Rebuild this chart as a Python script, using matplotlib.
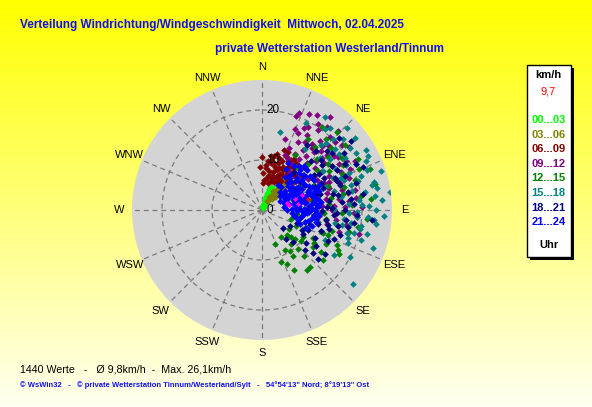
import numpy as np
import matplotlib
matplotlib.use("Agg")
import matplotlib.pyplot as plt
from matplotlib.transforms import offset_copy

# (direction deg, speed km/h) per 3-hour block
h00_03 = [(20, 0.4), (25, 0.6), (15, 0.8), (30, 0.9), (22, 1.1), (18, 1.3), (28, 1.4), (12, 1.5),
          (33, 1.6), (24, 1.8), (19, 2.0), (27, 2.1), (14, 2.3), (31, 2.4), (22, 2.6), (17, 2.8),
          (26, 2.9), (20, 3.1), (29, 3.2), (23, 3.4), (16, 3.5), (25, 3.7), (21, 3.9), (27, 4.0),
          (19, 4.2), (24, 4.4), (22, 4.6), (26, 4.8), (20, 4.9), (13, 1.0), (35, 1.2), (10, 0.6),
          (32, 2.0), (15, 3.0), (28, 3.8), (18, 4.5), (23, 2.2), (21, 1.7), (26, 2.5), (24, 3.3)]
h03_06 = [(30, 2.0), (35, 2.5), (40, 3.0), (33, 3.5), (45, 3.8), (38, 4.2), (42, 4.6), (35, 5.0),
          (48, 5.2), (40, 5.6), (36, 6.0), (44, 6.3), (39, 6.8), (33, 7.2), (42, 7.5), (37, 7.8),
          (30, 4.5), (46, 4.0), (34, 5.8), (41, 3.4), (50, 6.0), (28, 3.0), (38, 7.0), (44, 5.0),
          (32, 6.5)]
h06_09 = [(0, 10.7), (358, 8.7), (2, 7.5), (5, 9.0), (8, 6.5), (10, 8.0), (12, 10.0), (14, 7.0),
          (15, 11.5), (17, 9.0), (18, 6.0), (20, 12.7), (21, 8.5), (22, 10.5), (24, 7.5), (24, 12.8),
          (26, 9.5), (27, 6.5), (28, 11.0), (30, 8.0), (31, 10.0), (33, 7.0), (34, 9.0), (36, 11.5),
          (38, 8.5), (40, 10.0), (42, 7.5), (44, 9.5), (46, 12.0), (12, 5.5), (6, 8.5), (16, 8.0),
          (19, 10.0), (23, 6.0), (29, 7.0), (35, 6.0), (25, 11.8), (32, 12.0), (11, 9.5), (4, 6.0),
          (9, 11.0), (27, 8.0), (37, 10.5), (14, 9.5), (20, 7.0), (41, 11.5), (50, 10.5), (48, 8.5),
          (3, 5.5), (18, 11.0), (7, 9.8), (13, 11.0), (17, 6.8), (22, 9.0), (26, 7.0), (30, 11.5),
          (34, 10.5), (28, 9.0), (10, 7.0), (39, 9.5)]
h09_12 = [(18, 15.0), (20, 20.1), (21, 20.7), (24, 13.5), (25, 17.0), (26, 21.4), (27, 11.5),
          (28, 15.5), (29, 19.0), (30, 13.0), (31, 17.5), (32, 16.1), (33, 11.0), (34, 14.5),
          (35, 19.5), (36, 12.5), (37, 16.5), (38, 21.0), (39, 14.0), (40, 18.0), (41, 11.5),
          (42, 15.5), (43, 20.0), (44, 13.0), (45, 16.7), (46, 18.5), (47, 12.0), (48, 14.5),
          (50, 17.0), (51, 20.5), (52, 13.5), (53, 15.5), (55, 18.5), (56, 11.0), (57, 14.0),
          (58, 16.5), (60, 19.5), (61, 12.5), (63, 15.0), (64, 17.5), (66, 13.5), (68, 16.0),
          (70, 18.5), (72, 14.0), (74, 11.5), (76, 16.5), (78, 19.0), (80, 13.0), (82, 15.5),
          (84, 17.5), (86, 12.0), (88, 16.6), (88, 20.0), (90, 14.0), (92, 18.5), (94, 19.0),
          (96, 11.5), (98, 15.0), (100, 17.0), (102, 13.2), (104, 20.0), (106, 16.0), (22, 17.5),
          (30, 22.0), (36, 23.0), (23, 12.0), (44, 22.0), (54, 21.5), (62, 21.0), (34, 9.5),
          (27, 18.5), (33, 20.5), (39, 16.0), (43, 17.5), (47, 20.0), (49, 16.0), (53, 18.0),
          (57, 12.5), (59, 18.0), (65, 19.5), (67, 14.5), (71, 16.5), (75, 13.5), (79, 17.5),
          (83, 19.0), (87, 14.5)]
h12_15 = [(31, 12.8), (36, 20.5), (40, 16.5), (44, 21.6), (48, 18.5), (51, 17.0), (52, 21.0),
          (54, 13.5), (57, 19.0), (58, 9.4), (60, 15.5), (62, 21.8), (64, 11.5), (66, 17.5),
          (69, 23.1), (70, 14.0), (72, 19.5), (75, 12.0), (77, 23.2), (79, 16.5), (82, 20.0),
          (85, 13.5), (87, 18.0), (90, 10.5), (92, 16.0), (95, 21.0), (98, 13.0), (101, 15.2),
          (102, 11.5), (104, 18.0), (106, 9.0), (107, 14.6), (111, 13.1), (111, 14.1), (113, 9.3),
          (115, 16.5), (118, 17.2), (119, 11.7), (120, 17.7), (123, 12.3), (123, 9.8), (126, 12.6),
          (129, 15.8), (131, 8.7), (133, 8.0), (137, 10.6), (140, 14.9), (143, 15.0), (146, 10.0),
          (146, 11.2), (150, 9.2), (155, 12.0), (159, 7.2), (145, 6.5), (135, 7.0), (125, 6.5),
          (116, 7.5), (108, 6.0), (97, 7.0), (88, 8.5), (78, 10.0), (45, 13.0), (38, 11.0),
          (33, 17.0), (65, 8.0), (72, 6.5), (125, 14.5), (138, 12.5), (152, 13.5), (118, 14.5),
          (110, 12.5), (128, 10.0), (140, 9.0), (160, 11.0), (42, 19.0), (47, 15.0), (55, 16.0),
          (61, 18.5), (67, 21.0), (74, 17.0), (80, 14.0), (84, 22.0), (93, 12.5), (100, 19.5)]
h15_18 = [(13, 16.0), (27, 19.5), (34, 22.5), (38, 20.5), (40, 21.3), (42, 17.5), (45, 20.2),
          (46, 23.5), (48, 15.5), (50, 19.0), (52, 23.5), (53, 17.0), (55, 21.5), (57, 14.5),
          (58, 19.5), (60, 24.0), (61, 17.0), (63, 23.8), (64, 21.0), (66, 15.5), (67, 19.0),
          (69, 22.5), (70, 17.5), (72, 25.0), (73, 20.0), (75, 15.0), (76, 23.0), (77, 22.5),
          (78, 18.5), (80, 21.0), (81, 16.0), (82, 25.8), (83, 22.8), (84, 19.5), (85, 24.0),
          (86, 17.5), (88, 21.5), (89, 14.5), (90, 22.9), (91, 19.0), (93, 24.5), (94, 21.3),
          (94, 19.0), (96, 16.5), (97, 23.0), (99, 20.0), (101, 19.9), (101, 16.2), (103, 21.5),
          (105, 17.5), (107, 20.8), (109, 23.5), (111, 18.5), (115, 14.0), (118, 20.0), (100, 14.8),
          (129, 23.5), (122, 17.0), (70, 13.5), (56, 12.5), (35, 15.0), (44, 18.5), (49, 21.5),
          (54, 19.0), (59, 22.0), (62, 19.0), (65, 23.0), (68, 17.0), (71, 21.0), (74, 18.5),
          (79, 23.5), (87, 20.0), (92, 17.5), (95, 22.5), (98, 18.0), (104, 19.0), (108, 18.0)]
h18_21 = [(45, 14.0), (48, 17.5), (50, 11.0), (51, 18.0), (53, 15.0), (55, 20.0), (56, 12.5),
          (58, 16.5), (60, 10.0), (61, 19.0), (63, 14.0), (64, 21.0), (66, 11.5), (66, 15.9),
          (68, 18.0), (70, 13.0), (71, 9.5), (72, 16.5), (74, 19.5), (75, 12.0), (77, 14.5),
          (78, 17.5), (80, 10.5), (81, 20.5), (82, 13.5), (84, 16.0), (85, 11.0), (86, 18.5),
          (88, 14.0), (89, 9.0), (90, 16.5), (91, 12.0), (93, 19.0), (94, 14.5), (96, 10.5),
          (97, 17.0), (99, 13.0), (101, 17.5), (102, 15.5), (104, 11.5), (106, 14.0), (108, 16.5),
          (110, 12.5), (113, 10.0), (115, 14.5), (118, 12.0), (121, 9.5), (124, 13.0), (127, 11.0),
          (130, 5.5), (130, 13.4), (131, 14.8), (133, 11.7), (136, 9.0), (140, 7.5), (120, 6.5),
          (110, 7.5), (100, 8.0), (57, 8.0), (62, 7.0), (40, 10.0), (42, 16.0), (47, 21.0),
          (52, 22.5), (67, 22.0), (59, 12.0), (76, 9.0), (87, 7.5), (95, 22.0), (35, 15.8),
          (54, 9.5), (58, 13.5), (62, 17.0), (65, 13.0), (69, 16.0), (73, 11.0), (79, 15.5),
          (83, 18.0), (87, 13.0), (92, 15.0), (98, 18.5), (103, 13.5), (107, 10.0), (112, 15.5),
          (117, 9.0), (125, 15.5), (46, 12.0), (50, 15.5)]
h21_24 = [(40, 6.0), (42, 8.5), (45, 5.0), (45, 10.5), (47, 7.0), (48, 12.0), (50, 6.0), (50, 9.0),
          (52, 4.5), (52, 11.0), (53, 7.5), (55, 11.8), (55, 5.5), (57, 8.5), (58, 10.0), (60, 6.5),
          (60, 12.0), (62, 4.0), (62, 9.0), (64, 7.5), (65, 11.0), (66, 12.5), (67, 5.5), (68, 8.5),
          (70, 6.5), (70, 10.0), (72, 12.0), (73, 4.5), (74, 7.5), (75, 9.0), (76, 11.0), (78, 5.5),
          (78, 8.0), (80, 6.5), (80, 10.5), (82, 12.0), (83, 4.5), (84, 7.5), (85, 9.5), (86, 11.5),
          (88, 6.0), (88, 8.5), (90, 10.5), (90, 5.0), (92, 7.0), (94, 9.0), (95, 11.5), (96, 6.0),
          (98, 8.0), (100, 10.0), (102, 7.0), (105, 9.0), (108, 10.5), (110, 8.0), (38, 9.0),
          (36, 11.0), (44, 12.2), (63, 6.0), (71, 8.0),
          (77, 6.8), (56, 9.8), (49, 10.8), (67, 10.2), (81, 8.8), (59, 7.2), (87, 11.0), (93, 11.0),
          (54, 6.8), (46, 8.2), (69, 11.8), (79, 11.5), (91, 8.0), (97, 10.5), (103, 11.0),
          (100, 6.5), (65, 5.0), (72, 9.5), (84, 10.8), (43, 11.0), (57, 5.0),
          (74, 5.2), (106, 7.5), (112, 9.5), (29, 10.7), (33, 5.9),
          (35, 8.0), (31, 9.5), (44, 7.5), (48, 9.5), (53, 10.0), (56, 7.0), (60, 8.2), (63, 10.5),
          (66, 7.0), (69, 9.8), (71, 11.0), (74, 10.5), (77, 8.5), (80, 9.0), (83, 10.0), (86, 6.8),
          (89, 10.0), (92, 9.5), (96, 8.5), (99, 11.0), (103, 9.5), (40, 11.5)]
latest = [(69, 8.5), (75, 5.1), (79, 5.4), (80, 7.4), (72, 7.0)]
current = [(76, 9.5)]

groups = [h00_03, h03_06, h06_09, h09_12, h12_15, h15_18, h18_21, h21_24]
group_labels = ["00...03", "03...06", "06...09", "09...12", "12...15", "15...18", "18...21", "21...24"]
group_colors = ["#00ff00", "#808000", "#800000", "#800080", "#008000", "#008080", "#000080", "#0000ff"]
directions = ["N", "NNE", "NE", "ENE", "E", "ESE", "SE", "SSE",
              "S", "SSW", "SW", "WSW", "W", "WNW", "NW", "NNW"]
rings = [10, 20]
r_max = 26

W, H = 592, 407
fig = plt.figure(figsize=(W / 100, H / 100), dpi=100)

# yellow gradient background
bg = fig.add_axes([0, 0, 1, 1])
grad = np.linspace(0, 1, 256)[:, None]
img = np.zeros((256, 2, 3))
img[..., 0] = 1.0
img[..., 1] = 1.0
img[..., 2] = grad * 0.94
bg.imshow(img, aspect="auto", extent=[0, 1, 0, 1])
bg.set_axis_off()

cx, cy, rad = 262, 210, 130
ax = fig.add_axes([(cx - rad) / W, (H - cy - rad) / H, 2 * rad / W, 2 * rad / H], projection="polar")
ax.set_theta_zero_location("N")
ax.set_theta_direction(-1)
ax.set_facecolor("#d4d4d4")
ax.spines["polar"].set_visible(False)
ax.set_ylim(0, r_max)
ax.set_xticks(np.radians(np.arange(0, 360, 22.5)))
ax.set_xticklabels([])
ax.set_yticks(rings)
ax.set_yticklabels([])
ax.grid(True, color="#7a7a7a", linestyle=(0, (4, 3)), linewidth=0.9)

ms = 3.4
for pts, col in zip(groups, group_colors):
    d = np.radians([p[0] for p in pts])
    s = [p[1] for p in pts]
    ax.plot(d, s, "D", color=col, ms=ms, mew=0, zorder=3)
ax.plot(np.radians([p[0] for p in latest]), [p[1] for p in latest], "D", color="#ff00ff", ms=2.6, mew=0, zorder=3)
ax.plot(np.radians([p[0] for p in current]), [p[1] for p in current], "D", color="#ff0000", ms=2.6, mew=0, zorder=3)

lab_font = ["Liberation Sans", "DejaVu Sans"]
for i, name in enumerate(directions):
    ax.text(np.radians(i * 22.5), 28.6, name, ha="center", va="center", fontsize=8,
            family=lab_font, clip_on=False)

tr = offset_copy(ax.transData, fig=fig, x=3, y=0, units="points")
for r in [0] + rings:
    ax.text(0, r, str(r), transform=tr, ha="left", va="center", fontsize=8.5, family=lab_font, zorder=4)

blue = "#1010f0"
fig.text(20 / W, 1 - 25 / H, "Verteilung Windrichtung/Windgeschwindigkeit  Mittwoch, 02.04.2025",
         color=blue, fontsize=8.5, fontweight="bold", family=lab_font, ha="left", va="center")
fig.text(215 / W, 1 - 49 / H, "private Wetterstation Westerland/Tinnum",
         color=blue, fontsize=8.5, fontweight="bold", family=lab_font, ha="left", va="center")
fig.text(20 / W, 1 - 369 / H, "1440 Werte   -   Ø 9,8km/h  -  Max. 26,1km/h",
         color="black", fontsize=7.7, family=lab_font, ha="left", va="center")
fig.text(20 / W, 1 - 385.5 / H,
         "© WsWin32   -   © private Wetterstation Tinnum/Westerland/Sylt   -   54°54'13\" Nord; 8°19'13\" Ost",
         color=blue, fontsize=5.5, fontweight="bold", family=lab_font, ha="left", va="center")

# legend box with shadow
lx0, lx1, ly0, ly1 = 527, 571, 65, 257
bg.add_patch(plt.Rectangle(((lx0 + 3) / W, 1 - (ly1 + 3) / H), (lx1 - lx0) / W, (ly1 - ly0) / H,
                           transform=bg.transAxes, facecolor="black", edgecolor="none", zorder=5))
bg.add_patch(plt.Rectangle((lx0 / W, 1 - ly1 / H), (lx1 - lx0) / W, (ly1 - ly0) / H,
                           transform=bg.transAxes, facecolor="white", edgecolor="black", lw=1, zorder=6))
lcx = 548.5 / W
fig.text(lcx, 1 - 75 / H, "km/h", fontsize=8, fontweight="bold", family=lab_font, ha="center", va="center", zorder=7)
fig.text(lcx, 1 - 91.5 / H, "9,7", fontsize=8, color="#ff0000", family=lab_font, ha="center", va="center", zorder=7)
for i, (lab, col) in enumerate(zip(group_labels, group_colors)):
    fig.text(lcx, 1 - (120 + i * 14.6) / H, lab, fontsize=8, fontweight="bold", color=col,
             family=lab_font, ha="center", va="center", zorder=7)
fig.text(lcx, 1 - 245 / H, "Uhr", fontsize=8, fontweight="bold", family=lab_font, ha="center", va="center", zorder=7)

fig.savefig("out.png", dpi=100)
